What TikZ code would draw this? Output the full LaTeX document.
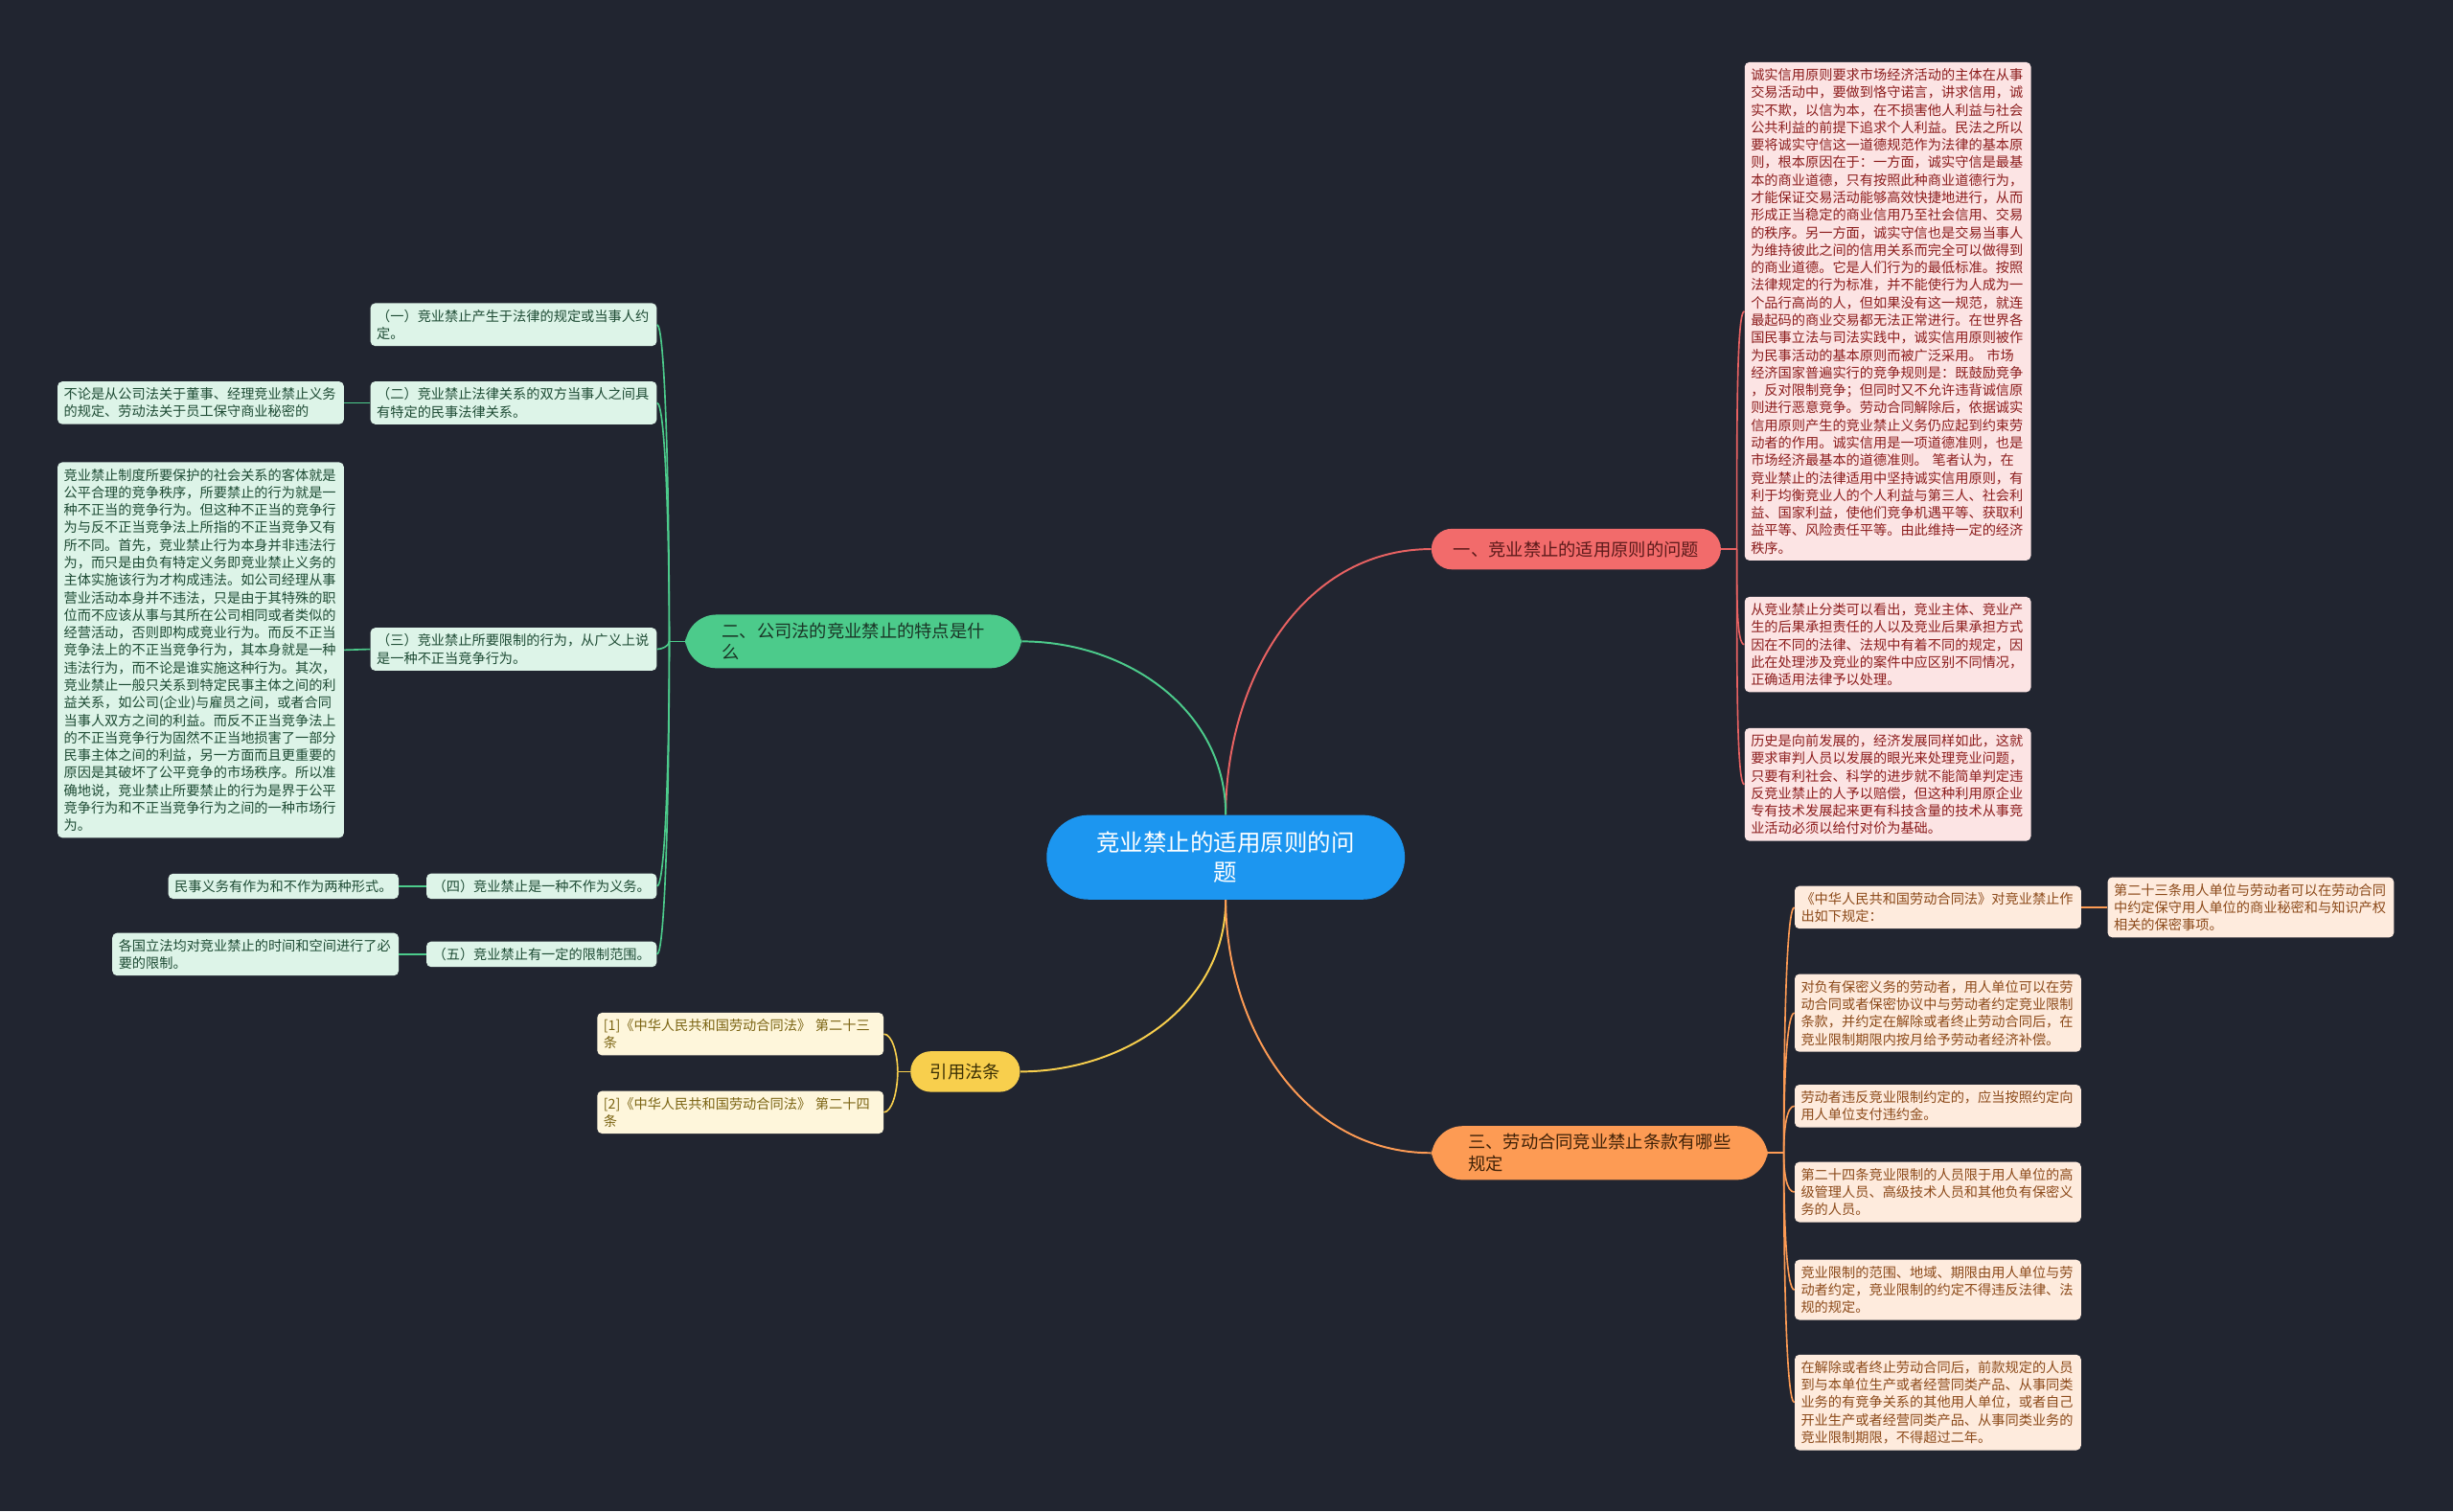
\documentclass[tikz,border=0pt]{standalone}
\usepackage{fontspec}
\setmainfont{Noto Sans CJK SC}
\usepackage{xcolor}
\usepackage{tikz}

\definecolor{bgcol}{HTML}{212530}
\definecolor{rootcol}{HTML}{1C96F0}
\definecolor{redcol}{HTML}{F26B6B}
\definecolor{redlinecol}{HTML}{E86262}
\definecolor{redleafcol}{HTML}{FCE4E4}
\definecolor{redtextcol}{HTML}{8C1D1D}
\definecolor{reddarkcol}{HTML}{5C1A1A}
\definecolor{greencol}{HTML}{4CCB8B}
\definecolor{greenleafcol}{HTML}{DDF4E8}
\definecolor{greentextcol}{HTML}{1E4B34}
\definecolor{greendarkcol}{HTML}{1A3526}
\definecolor{yellowcol}{HTML}{F8CF4D}
\definecolor{yellowleafcol}{HTML}{FEF6DB}
\definecolor{yellowtextcol}{HTML}{7B6413}
\definecolor{yellowdarkcol}{HTML}{3A2F05}
\definecolor{orangecol}{HTML}{FD9B54}
\definecolor{orangeleafcol}{HTML}{FEEBDD}
\definecolor{orangetextcol}{HTML}{8C4A1A}
\definecolor{orangedarkcol}{HTML}{402208}

\newcommand{\leaffont}{\fontsize{8.7}{11.2}\selectfont}
\newcommand{\branchfont}{\fontsize{11.2}{14}\selectfont}
\newcommand{\rootfont}{\fontsize{15}{18.5}\selectfont}

\begin{document}
\begin{tikzpicture}[x=1pt,y=1pt,
  leaf/.style={rounded corners=3pt,inner xsep=4pt,inner ysep=4pt,align=left,font=\leaffont},
  para/.style={leaf,text width=175pt},
  redleaf/.style={fill=redleafcol,text=redtextcol,anchor=west},
  greenleaf/.style={fill=greenleafcol,text=greentextcol,anchor=east},
  yellowleaf/.style={fill=yellowleafcol,text=yellowtextcol,anchor=east},
  orangeleaf/.style={fill=orangeleafcol,text=orangetextcol,anchor=west},
  branch/.style={font=\branchfont,inner ysep=5pt},
  twobranch/.style={branch,align=left,text width=168pt,inner xsep=23.5pt,rounded corners=20pt},
  redcon/.style={draw=redlinecol,line width=1.2pt},
  greencon/.style={draw=greencol,line width=1.2pt},
  yellowcon/.style={draw=yellowcol,line width=1.2pt},
  orangecon/.style={draw=orangecol,line width=1.2pt}]

  \fill[bgcol] (0,0) rectangle (1568,-966);
  \useasboundingbox (0,0) rectangle (1568,-966);

  % centre and the four branches
  \node[fill=rootcol,text=white,font=\rootfont,align=center,minimum width=229pt,minimum height=54pt,rounded corners=27pt] (t0) at (783.5,-548) {竞业禁止的适用原则的问\\题};
  \node[branch,fill=redcol,text=reddarkcol,minimum width=185pt,minimum height=26pt,rounded corners=13pt] (b1) at (1007.5,-351) {一、竞业禁止的适用原则的问题};
  \node[twobranch,fill=greencol,text=greendarkcol] (b2) at (545.5,-410) {二、公司法的竞业禁止的特点是什\\么};
  \node[twobranch,fill=orangecol,text=orangedarkcol] (b3) at (1022.5,-737) {三、劳动合同竞业禁止条款有哪些\\规定};
  \node[branch,fill=yellowcol,text=yellowdarkcol,minimum width=70pt,minimum height=26pt,rounded corners=13pt] (b4) at (617,-685) {引用法条};

  \draw[redcon] (t0.north) to[out=90,in=180] (b1.west);
  \draw[greencon] (t0.north) to[out=90,in=0] (b2.east);
  \draw[yellowcon] (t0.south) to[out=-90,in=0] (b4.east);
  \draw[orangecon] (t0.south) to[out=-90,in=180] (b3.west);

  % red leaves
  \node[para,redleaf] (r1) at (1115,-199) {诚实信用原则要求市场经济活动的主体在从事\\交易活动中，要做到恪守诺言，讲求信用，诚\\实不欺，以信为本，在不损害他人利益与社会\\公共利益的前提下追求个人利益。民法之所以\\要将诚实守信这一道德规范作为法律的基本原\\则，根本原因在于：一方面，诚实守信是最基\\本的商业道德，只有按照此种商业道德行为，\\才能保证交易活动能够高效快捷地进行，从而\\形成正当稳定的商业信用乃至社会信用、交易\\的秩序。另一方面，诚实守信也是交易当事人\\为维持彼此之间的信用关系而完全可以做得到\\的商业道德。它是人们行为的最低标准。按照\\法律规定的行为标准，并不能使行为人成为一\\个品行高尚的人，但如果没有这一规范，就连\\最起码的商业交易都无法正常进行。在世界各\\国民事立法与司法实践中，诚实信用原则被作\\为民事活动的基本原则而被广泛采用。 市场\\经济国家普遍实行的竞争规则是：既鼓励竞争\\，反对限制竞争；但同时又不允许违背诚信原\\则进行恶意竞争。劳动合同解除后，依据诚实\\信用原则产生的竞业禁止义务仍应起到约束劳\\动者的作用。诚实信用是一项道德准则，也是\\市场经济最基本的道德准则。 笔者认为，在\\竞业禁止的法律适用中坚持诚实信用原则，有\\利于均衡竞业人的个人利益与第三人、社会利\\益、国家利益，使他们竞争机遇平等、获取利\\益平等、风险责任平等。由此维持一定的经济\\秩序。};
  \node[para,redleaf] (r2) at (1115,-412) {从竞业禁止分类可以看出，竞业主体、竞业产\\生的后果承担责任的人以及竞业后果承担方式\\因在不同的法律、法规中有着不同的规定，因\\此在处理涉及竞业的案件中应区别不同情况，\\正确适用法律予以处理。};
  \node[para,redleaf] (r3) at (1115,-501.5) {历史是向前发展的，经济发展同样如此，这就\\要求审判人员以发展的眼光来处理竞业问题，\\只要有利社会、科学的进步就不能简单判定违\\反竞业禁止的人予以赔偿，但这种利用原企业\\专有技术发展起来更有科技含量的技术从事竞\\业活动必须以给付对价为基础。};

  \draw[redcon,line width=1pt] (b1.east) -- ++(10,0) coordinate (jr);
  \draw[redcon,line width=1pt] (jr) to[out=90,in=180,out distance=76pt,in distance=5pt] (r1.west);
  \draw[redcon,line width=1pt] (jr) to[out=-90,in=180,out distance=30pt,in distance=5pt] (r2.west);
  \draw[redcon,line width=1pt] (jr) to[out=-90,in=180,out distance=75pt,in distance=5pt] (r3.west);

  % green leaves
  \node[para,greenleaf] (g1) at (420,-207.5) {（一）竞业禁止产生于法律的规定或当事人约\\定。};
  \node[para,greenleaf] (g2) at (420,-257.5) {（二）竞业禁止法律关系的双方当事人之间具\\有特定的民事法律关系。};
  \node[para,greenleaf] (g3) at (420,-415) {（三）竞业禁止所要限制的行为，从广义上说\\是一种不正当竞争行为。};
  \node[leaf,greenleaf] (g4) at (420,-566.5) {（四）竞业禁止是一种不作为义务。};
  \node[leaf,greenleaf] (g5) at (420,-610) {（五）竞业禁止有一定的限制范围。};
  \node[para,greenleaf] (g2a) at (220,-257.5) {不论是从公司法关于董事、经理竞业禁止义务\\的规定、劳动法关于员工保守商业秘密的};
  \node[para,greenleaf] (g3a) at (220,-415.5) {竞业禁止制度所要保护的社会关系的客体就是\\公平合理的竞争秩序，所要禁止的行为就是一\\种不正当的竞争行为。但这种不正当的竞争行\\为与反不正当竞争法上所指的不正当竞争又有\\所不同。首先，竞业禁止行为本身并非违法行\\为，而只是由负有特定义务即竞业禁止义务的\\主体实施该行为才构成违法。如公司经理从事\\营业活动本身并不违法，只是由于其特殊的职\\位而不应该从事与其所在公司相同或者类似的\\经营活动，否则即构成竞业行为。而反不正当\\竞争法上的不正当竞争行为，其本身就是一种\\违法行为，而不论是谁实施这种行为。其次，\\竞业禁止一般只关系到特定民事主体之间的利\\益关系，如公司(企业)与雇员之间，或者合同\\当事人双方之间的利益。而反不正当竞争法上\\的不正当竞争行为固然不正当地损害了一部分\\民事主体之间的利益，另一方面而且更重要的\\原因是其破坏了公平竞争的市场秩序。所以准\\确地说，竞业禁止所要禁止的行为是界于公平\\竞争行为和不正当竞争行为之间的一种市场行\\为。};
  \node[leaf,greenleaf] (g4a) at (255,-566.5) {民事义务有作为和不作为两种形式。};
  \node[para,greenleaf] (g5a) at (255,-610) {各国立法均对竞业禁止的时间和空间进行了必\\要的限制。};

  \draw[greencon,line width=1pt] (b2.west) -- ++(-10,0) coordinate (jg);
  \draw[greencon,line width=1pt] (jg) to[out=90,in=0,out distance=100pt,in distance=5pt] (g1.east);
  \draw[greencon,line width=1pt] (jg) to[out=90,in=0,out distance=75pt,in distance=5pt] (g2.east);
  \draw[greencon,line width=1pt] (jg) to[out=-90,in=0,out distance=3pt,in distance=3pt] (g3.east);
  \draw[greencon,line width=1pt] (jg) to[out=-90,in=0,out distance=78pt,in distance=5pt] (g4.east);
  \draw[greencon,line width=1pt] (jg) to[out=-90,in=0,out distance=100pt,in distance=5pt] (g5.east);
  \draw[greencon,line width=1pt] (g2.west) -- (g2a.east);
  \draw[greencon,line width=1pt] (g3.west) -- (g3a.east);
  \draw[greencon,line width=1pt] (g4.west) -- (g4a.east);
  \draw[greencon,line width=1pt] (g5.west) -- (g5a.east);

  % yellow leaves
  \node[para,yellowleaf] (y1) at (565,-661) {[1]《中华人民共和国劳动合同法》 第二十三\\条};
  \node[para,yellowleaf] (y2) at (565,-711) {[2]《中华人民共和国劳动合同法》 第二十四\\条};

  \draw[yellowcon,line width=1pt] (b4.west) -- ++(-8,0) coordinate (jy);
  \draw[yellowcon,line width=1pt] (jy) to[out=90,in=0,out distance=12pt,in distance=5pt] (y1.east);
  \draw[yellowcon,line width=1pt] (jy) to[out=-90,in=0,out distance=13pt,in distance=5pt] (y2.east);

  % orange leaves
  \node[para,orangeleaf] (o1) at (1147,-580) {《中华人民共和国劳动合同法》对竞业禁止作\\出如下规定：};
  \node[para,orangeleaf] (o2) at (1147,-647.5) {对负有保密义务的劳动者，用人单位可以在劳\\动合同或者保密协议中与劳动者约定竞业限制\\条款，并约定在解除或者终止劳动合同后，在\\竞业限制期限内按月给予劳动者经济补偿。};
  \node[para,orangeleaf] (o3) at (1147,-707) {劳动者违反竞业限制约定的，应当按照约定向\\用人单位支付违约金。};
  \node[para,orangeleaf] (o4) at (1147,-762) {第二十四条竞业限制的人员限于用人单位的高\\级管理人员、高级技术人员和其他负有保密义\\务的人员。};
  \node[para,orangeleaf] (o5) at (1147,-824.5) {竞业限制的范围、地域、期限由用人单位与劳\\动者约定，竞业限制的约定不得违反法律、法\\规的规定。};
  \node[para,orangeleaf] (o6) at (1147,-896.5) {在解除或者终止劳动合同后，前款规定的人员\\到与本单位生产或者经营同类产品、从事同类\\业务的有竞争关系的其他用人单位，或者自己\\开业生产或者经营同类产品、从事同类业务的\\竞业限制期限，不得超过二年。};
  \node[para,orangeleaf] (o1a) at (1347,-580) {第二十三条用人单位与劳动者可以在劳动合同\\中约定保守用人单位的商业秘密和与知识产权\\相关的保密事项。};

  \draw[orangecon,line width=1pt] (b3.east) -- ++(10,0) coordinate (jo);
  \draw[orangecon,line width=1pt] (jo) to[out=90,in=180,out distance=78pt,in distance=5pt] (o1.west);
  \draw[orangecon,line width=1pt] (jo) to[out=90,in=180,out distance=45pt,in distance=5pt] (o2.west);
  \draw[orangecon,line width=1pt] (jo) to[out=90,in=180,out distance=15pt,in distance=5pt] (o3.west);
  \draw[orangecon,line width=1pt] (jo) to[out=-90,in=180,out distance=13pt,in distance=5pt] (o4.west);
  \draw[orangecon,line width=1pt] (jo) to[out=-90,in=180,out distance=44pt,in distance=5pt] (o5.west);
  \draw[orangecon,line width=1pt] (jo) to[out=-90,in=180,out distance=80pt,in distance=5pt] (o6.west);
  \draw[orangecon,line width=1pt] (o1.east) -- (o1a.west);
\end{tikzpicture}
\end{document}
